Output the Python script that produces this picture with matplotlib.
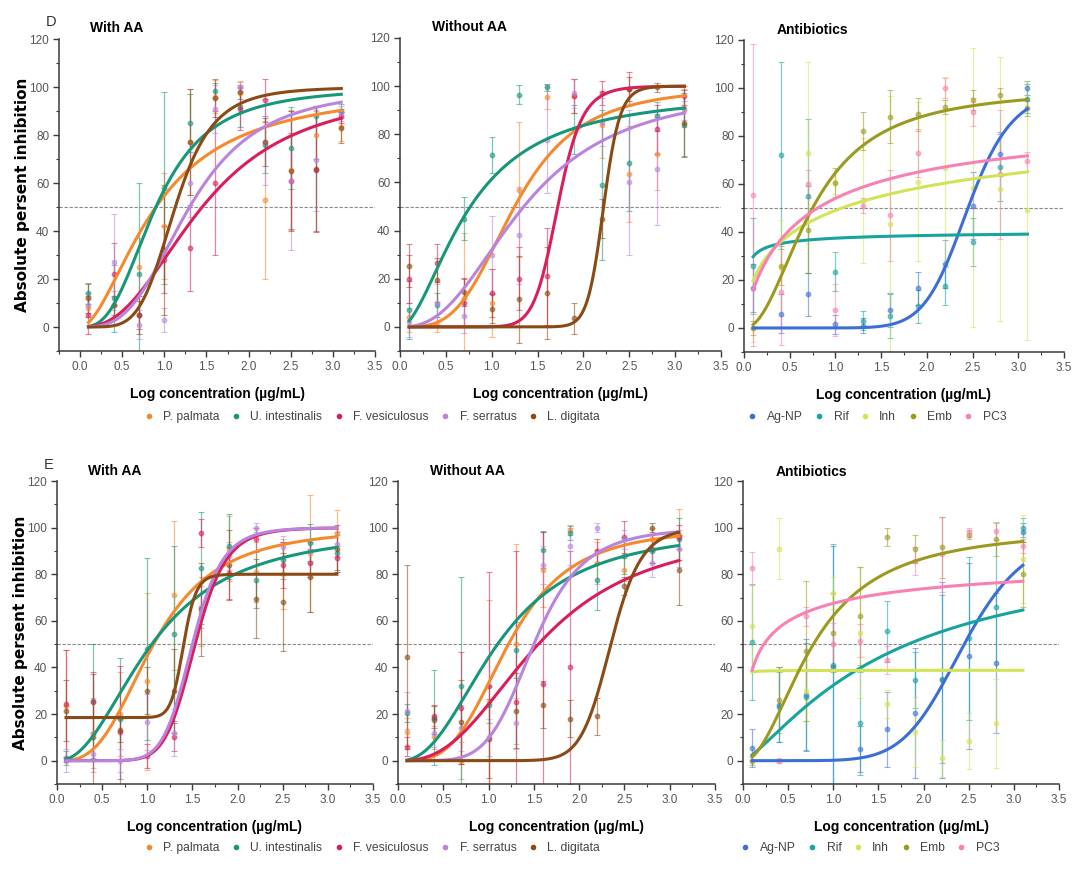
import numpy as np
import matplotlib
matplotlib.use("Agg")
import matplotlib.pyplot as plt
from matplotlib.ticker import MultipleLocator
from matplotlib.lines import Line2D

plt.rcParams['font.family'] = ['Liberation Sans Narrow', 'Liberation Sans', 'DejaVu Sans']

# ---------------- data ----------------
X = [0.1, 0.4, 0.7, 1.0, 1.3, 1.6, 1.9, 2.2, 2.5, 2.8, 3.1]

ALGAE = ["P. palmata", "U. intestinalis", "F. vesiculosus", "F. serratus", "L. digitata"]
ALGAE_COLORS = ["#F5892E", "#16977A", "#D81E5B", "#B983DE", "#8A4A16"]
DRUGS = ["Ag-NP", "Rif", "Inh", "Emb", "PC3"]
DRUG_COLORS = ["#3C6FD6", "#17A3A0", "#D2E356", "#9C9A1E", "#F880B2"]

# D, with AA
D1_MEAN = [[8, 9, 25, 42, 77, 96, 97.5, 53, 65.5, 80, 83.5],
           [14, 12, 22, 58, 85, 98.5, 91.5, 76, 74.5, 88, 90],
           [5, 22, 5, 28, 33, 60, 91, 94.5, 61, 66, 88],
           [9, 27, 1, 3, 60, 91, 100, 77, 61, 69.5, 89],
           [12, 9, 5, 32, 77, 95.5, 98, 77, 65, 65.5, 83]]
D1_ERR = [[4, 6, 12, 22, 22, 7, 5, 33, 25, 10, 6],
          [4.5, 14, 38, 40, 12, 3, 8, 12, 17, 4, 3],
          [8, 13, 6, 14, 18, 30, 9, 9, 20, 26, 3],
          [5, 20, 6, 5, 14, 10, 2, 18, 29, 21, 3],
          [6, 4, 8, 27, 22, 8, 3, 10, 25, 26, 6.5]]
D1_FIT = [(0, 100, 0.9, 1.8), (0, 100, 0.9, 2.8), (0, 100, 1.45, 2.5),
          (0, 100, 1.3, 3.1), (0, 100, 1.13, 5)]

# D, without AA
D2_MEAN = [[4, 1, 12, 10, 57, 95.5, 96, 84, 63.5, 72, 91],
           [7, 9, 45, 71.5, 96.5, 99.5, 82, 59, 68, 87.5, 84],
           [20, 26.5, 10, 14, 20, 21, 96, 97, 99, 82, 96],
           [2, 10, 4.5, 30, 38, 77.5, 97, 85, 60, 65.5, 90],
           [25.5, 19.5, 14.5, 7.5, 11.5, 14, 3.5, 45, 99, 99.5, 84.5]]
D2_ERR = [[6, 3, 27, 14, 28, 5, 7, 14, 20, 15, 8],
          [12, 5, 9, 7.5, 4, 1.5, 10, 31, 20, 6, 13],
          [10, 8, 10, 10, 13, 20, 7, 5, 7, 10, 4],
          [6, 8, 7, 16, 20, 22, 6, 10, 30, 23, 4],
          [9, 9, 6, 6, 18, 19, 6.5, 8, 5, 2, 14]]
D2_FIT = [(0, 100, 1.25, 3.5), (0, 98, 0.75, 1.8), (0, 100, 1.72, 13),
          (0, 100, 1.35, 2.5), (0, 100, 2.22, 25)]

# D, antibiotics
D3_MEAN = [[16.5, 6, 14, 1.5, 1, 7.5, 16.5, 26.5, 51, 72.5, 100],
           [26, 72, 55, 23.5, 3, 5, 9, 17.5, 36, 67, 95.5],
           [0, 25, 73, 61, 53, 43.5, 61, 66.5, 58.5, 58, 49],
           [0, 26, 41, 60.5, 82, 88, 89, 92, 95, 97, 91.5],
           [55.5, 15, 60, 7.5, 51, 47, 73, 100, 90, 64, 69.5]]
D3_ERR = [[10, 8, 9, 4, 3, 7, 7, 10, 14, 9, 3],
          [20, 39, 32, 8, 4, 9, 7, 8, 10, 14, 6],
          [6, 20, 38, 5, 26, 53, 33, 38, 58, 55, 54],
          [3, 8, 18, 6, 8, 11, 7, 3, 4, 3, 3],
          [63, 22, 6, 11, 3, 19, 10, 4, 6, 27, 4]]
D3_FIT = [(0, 100, 2.45, 10), (0, 41, 0.02, 0.6), (0, 98, 1.0, 0.6),
          (0, 100, 0.75, 2.1), (0, 90, 0.62, 0.85)]

# E, with AA
E1_MEAN = [[23.5, 12, 20, 34, 71, 64, 91, 81, 80, 89, 97.5],
           [1, 25.5, 18, 48, 54.5, 82.5, 92, 77.5, 86, 93.5, 89],
           [24.5, 25, 12.5, 2, 10, 97.5, 80.5, 95, 84, 85, 87],
           [0, 3, 0, 16.5, 12, 66, 88, 100, 91.5, 90, 93],
           [21.5, 10, 13, 30, 30, 65, 84, 69.5, 68, 79, 91]]
E1_ERR = [[24, 15, 18, 38, 32, 15, 14, 13, 15, 25, 10],
          [3, 24.5, 26, 39, 37.5, 24, 14, 12, 8, 8, 8],
          [23, 13, 28, 5, 6, 6, 11, 5, 10, 6, 5],
          [5, 8, 5, 12, 10, 9, 6, 2, 5, 5, 5],
          [13, 27, 5, 10, 18, 20, 15, 17, 21, 15, 10]]
E1_FIT = [(0, 100, 1.07, 3), (0, 100, 1.05, 2.2), (0, 100, 1.53, 9),
          (0, 100, 1.5, 9), (18.5, 80, 1.4, 20)]

# E, without AA
E2_MEAN = [[12.5, 10, 0, 25, 50, 82, 99, 85, 82, 95, 97],
           [20.5, 18.5, 32, 24, 47.5, 90.5, 97.5, 77.5, 88, 90, 95],
           [6, 19, 22.5, 32, 25, 33, 40, 90, 96, 91, 96],
           [21.5, 12, 14, 10, 16, 84, 92, 100, 95, 85, 91],
           [44.5, 17.5, 16.5, 9.5, 21.5, 24, 18, 19, 75, 100, 82]]
E2_ERR = [[6, 5, 8, 44, 43, 16, 2, 9, 5, 5, 11],
          [4, 20.5, 47, 8, 12, 8, 3, 13, 8, 5, 9],
          [4, 5, 24, 49, 65, 65, 50, 5, 7, 6, 5],
          [8, 6, 10, 8, 11, 8, 8, 2, 4, 6, 8],
          [39.5, 6, 18, 17, 16, 10, 8, 8, 4, 2, 15]]
E2_FIT = [(0, 100, 1.22, 3.5), (0, 100, 1.1, 2.4), (0, 100, 1.55, 2.6),
          (0, 100, 1.5, 5.5), (0, 100, 2.35, 14)]

# E, antibiotics
E3_MEAN = [[5.5, 24, 28, 40, 5, 13.5, 20.5, 34.5, 45, 42, 98],
           [51, 23, 27.5, 41, 16, 55.5, 34.5, 35, 52.5, 66, 100],
           [58, 91, 30, 72, 55, 24.5, 12.5, 1, 8.5, 16, 86.5],
           [0, 26, 47, 55, 62, 96, 91, 91.5, 97, 95, 80],
           [82.5, 0, 62, 50, 51.5, 43, 85.5, 88.5, 98, 98.5, 92]]
E3_ERR = [[8, 16, 24, 52, 10, 16, 28, 42, 40, 30, 4],
          [25, 15, 23, 52, 22, 13, 12, 36, 35, 27, 4],
          [18, 13, 13, 7, 28, 6, 15, 8, 12, 19, 19],
          [2, 14, 30, 17, 21, 4, 6, 13, 2, 7, 14],
          [7, 1, 4, 9, 7, 6, 6, 16, 2, 4, 3]]
E3_FIT = [(0, 100, 2.45, 7), (0, 92, 1.6, 1.3), (0, 38.8, 0.002, 1),
          (0, 100, 0.78, 2.0), (0, 90, 0.16, 0.6)]

X_TICKS = [0.0, 0.5, 1.0, 1.5, 2.0, 2.5, 3.0, 3.5]
Y_TICKS = [0, 20, 40, 60, 80, 100, 120]


def hill(x, bottom, top, k, n):
    x = np.asarray(x, dtype=float)
    return bottom + (top - bottom) * x ** n / (k ** n + x ** n)


W, H = 1085, 871
fig = plt.figure(figsize=(W / 100, H / 100), dpi=100)


def rect(l, r, t, b):
    return [l / W, 1 - b / H, (r - l) / W, (b - t) / H]


panels = [
    dict(r=rect(59, 375, 39, 351), xmin=-0.25, mean=D1_MEAN, err=D1_ERR, fit=D1_FIT,
         colors=ALGAE_COLORS, title="With AA", tx=90, ty=28, ylx=23, tag="D"),
    dict(r=rect(400, 721, 38, 351), xmin=0.0, mean=D2_MEAN, err=D2_ERR, fit=D2_FIT,
         colors=ALGAE_COLORS, title="Without AA", tx=432, ty=27),
    dict(r=rect(744, 1064, 40, 352), xmin=0.0, mean=D3_MEAN, err=D3_ERR, fit=D3_FIT,
         colors=DRUG_COLORS, title="Antibiotics", tx=777, ty=30),
    dict(r=rect(57, 373, 481, 784), xmin=0.0, mean=E1_MEAN, err=E1_ERR, fit=E1_FIT,
         colors=ALGAE_COLORS, title="With AA", tx=88, ty=471, ylx=21, tag="E"),
    dict(r=rect(398, 715, 481, 784), xmin=0.0, mean=E2_MEAN, err=E2_ERR, fit=E2_FIT,
         colors=ALGAE_COLORS, title="Without AA", tx=430, ty=471),
    dict(r=rect(743, 1059, 481, 784), xmin=0.0, mean=E3_MEAN, err=E3_ERR, fit=E3_FIT,
         colors=DRUG_COLORS, title="Antibiotics", tx=776, ty=472),
]

xs = np.linspace(X[0], X[-1], 400)
for p in panels:
    ax = fig.add_axes(p["r"])
    ax.set_xlim(p["xmin"], 3.5)
    ax.set_ylim(-10, 120)
    ax.axhline(50, color="#8a8a8a", lw=0.8, ls=(0, (3, 1.5)), zorder=1)
    for mean, err, fit, c in zip(p["mean"], p["err"], p["fit"], p["colors"]):
        ax.errorbar(X, mean, yerr=err, fmt="o", ms=3.2, color=c, alpha=0.55,
                    elinewidth=0.9, capsize=2, capthick=0.8, zorder=2)
        ax.plot(xs, hill(xs, *fit), color=c, lw=2.2, zorder=3)
    for s in ("top", "right"):
        ax.spines[s].set_visible(False)
    for s in ("left", "bottom"):
        ax.spines[s].set_color("#3a3a3a")
        ax.spines[s].set_linewidth(1.1)
    ax.set_xticks(X_TICKS)
    ax.set_xticklabels([f"{t:.1f}" for t in X_TICKS])
    ax.set_yticks(Y_TICKS)
    ax.xaxis.set_minor_locator(MultipleLocator(0.25))
    ax.yaxis.set_minor_locator(MultipleLocator(10))
    ax.tick_params(which="major", direction="out", length=4, width=1, colors="#3a3a3a",
                   labelcolor="#555555", labelsize=8.5, pad=3)
    ax.tick_params(which="minor", direction="out", length=2.5, width=0.8, colors="#3a3a3a")
    ax.set_xlabel("Log concentration (µg/mL)", fontsize=10, fontweight="bold", labelpad=10)
    if p.get("ylx"):
        ax.set_ylabel("Absolute persent inhibition", fontsize=11, fontweight="bold",
                      family="DejaVu Sans", va="center")
        l, b, w, h = p["r"]
        ax.yaxis.set_label_coords((p["ylx"] / W - l) / w, 0.5)
    fig.text(p["tx"] / W, 1 - p["ty"] / H, p["title"], fontsize=10, fontweight="bold",
             va="center", ha="left")
    if p.get("tag"):
        fig.text((p["tx"] - 44) / W, 1 - (p["ty"] - 6) / H, p["tag"], fontsize=10.5,
                 va="center", ha="left", color="#333333")


def legend(names, colors, cx, cy):
    handles = [Line2D([], [], ls="none", marker="o", ms=3, color=c) for c in colors]
    fig.legend(handles, names, loc="center", bbox_to_anchor=(cx / W, 1 - cy / H), ncol=5,
               frameon=False, fontsize=8.7, handlelength=0.8, handletextpad=0.8,
               columnspacing=0.95, labelcolor="#444444")


legend(ALGAE, ALGAE_COLORS, 372, 417)
legend(DRUGS, DRUG_COLORS, 877, 417)
legend(ALGAE, ALGAE_COLORS, 372, 848)
legend(DRUGS, DRUG_COLORS, 870, 848)

fig.savefig("out.png", dpi=100)
